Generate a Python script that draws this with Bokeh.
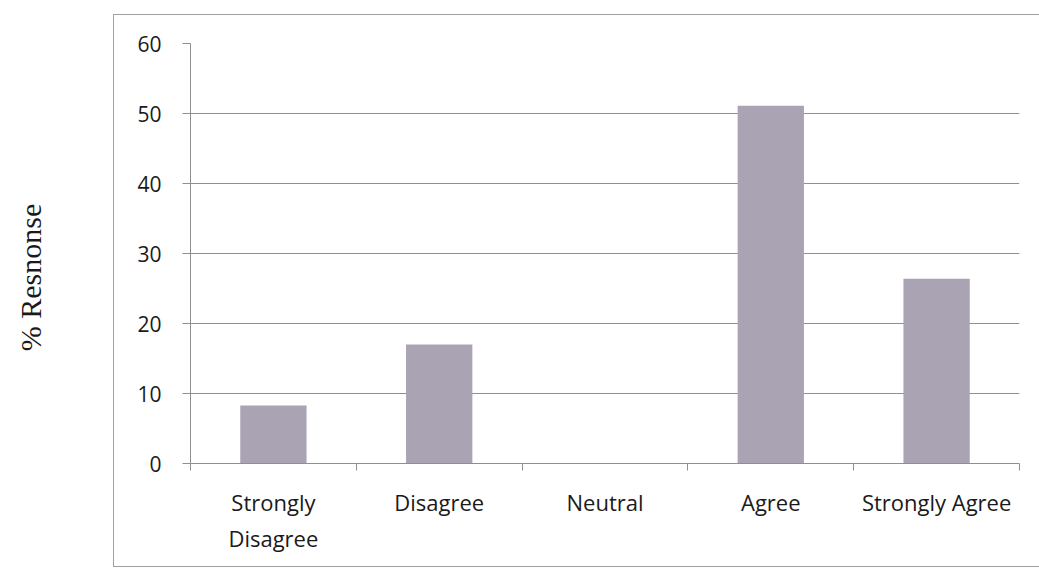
from bokeh.plotting import figure
from bokeh.layouts import row
from bokeh.models import Range1d, FixedTicker, LinearAxis
from bokeh.embed import file_html
from bokeh.resources import INLINE

categories = ["Strongly\nDisagree", "Disagree", "Neutral", "Agree", "Strongly Agree"]
responses = [8.3, 17.0, 0.0, 51.1, 26.4]
y_ticks = [0, 10, 20, 30, 40, 50, 60]
y_title = "% Resnonse"

BAR = "#a9a3b4"
GRID = "#8f8f8f"
BOX = "#a0a0a0"
TXT = "#1a1a1a"
FONT = "Open Sans"

# ---- left strip holding the y-axis title (outside the chart box) ----
t = figure(width=113, height=577, frame_width=20, frame_height=498, title=None,
           min_border_left=50, min_border_right=43,
           min_border_top=28, min_border_bottom=51,
           x_range=Range1d(0, 1), y_range=Range1d(0, 1),
           output_backend="svg", toolbar_location=None,
           x_axis_location=None, y_axis_location="left")
t.outline_line_color = None
t.xgrid.grid_line_color = None
t.ygrid.grid_line_color = None
ta = t.yaxis[0]
ta.ticker = FixedTicker(ticks=[])
ta.axis_line_color = None
ta.major_tick_line_color = None
ta.minor_tick_line_color = None
ta.axis_label = y_title
ta.axis_label_text_font = "Liberation Serif"
ta.axis_label_text_font_style = "normal"
ta.axis_label_text_font_size = "30px"
ta.axis_label_text_color = TXT
ta.axis_label_standoff = 4

# ---- main chart (inside the chart-area box) ----
p = figure(width=926, height=553, title=None,
           min_border_left=76, min_border_right=21,
           min_border_top=14, min_border_bottom=105,
           x_range=Range1d(0, len(categories)), y_range=Range1d(0, 60),
           output_backend="svg", toolbar_location=None,
           x_axis_location=None, y_axis_location="left")
p.outline_line_color = None
p.background_fill_color = "white"
p.border_fill_color = "white"
p.margin = (14, 0, 0, 0)
p.styles = {"border-left": f"1.5px solid {BOX}",
            "border-top": f"1.5px solid {BOX}",
            "border-bottom": f"1.5px solid {BOX}"}

centers = [i + 0.5 for i in range(len(categories))]
p.vbar(x=centers, top=responses, width=0.4, fill_color=BAR, line_color=None)

ya = p.yaxis[0]
ya.ticker = FixedTicker(ticks=y_ticks)
ya.axis_line_color = GRID
ya.major_tick_line_color = GRID
ya.major_tick_out = 8
ya.major_tick_in = 0
ya.minor_tick_line_color = None
ya.major_label_text_font = FONT
ya.major_label_text_font_size = "21px"
ya.major_label_text_color = TXT
ya.major_label_standoff = 21

p.ygrid.ticker = FixedTicker(ticks=y_ticks[1:])
p.ygrid.grid_line_color = GRID
p.xgrid.grid_line_color = None

# x axis: tick marks at the category boundaries
bounds = list(range(len(categories) + 1))
xa1 = LinearAxis(ticker=FixedTicker(ticks=bounds))
xa1.major_label_overrides = {b: "" for b in bounds}
xa1.axis_line_color = GRID
xa1.major_tick_line_color = GRID
xa1.major_tick_out = 7
xa1.major_tick_in = 0
xa1.minor_tick_line_color = None
xa1.major_label_standoff = 0
p.add_layout(xa1, "below")

# x axis: category names
xa2 = LinearAxis(ticker=FixedTicker(ticks=centers))
xa2.major_label_overrides = {c: lab for c, lab in zip(centers, categories)}
xa2.axis_line_color = None
xa2.major_tick_line_color = None
xa2.minor_tick_line_color = None
xa2.major_label_text_font = FONT
xa2.major_label_text_font_size = "22px"
xa2.major_label_text_color = TXT
xa2.major_label_standoff = 10
p.add_layout(xa2, "below")

layout = row(t, p)
open("out.html", "w").write(file_html(layout, INLINE))
